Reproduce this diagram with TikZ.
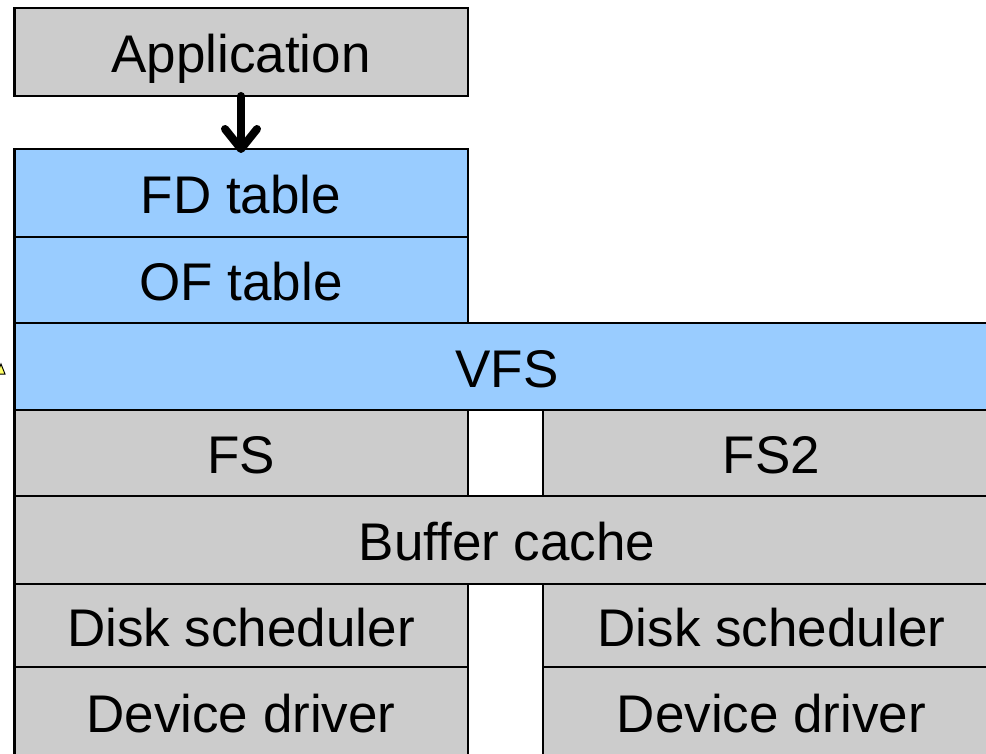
\documentclass[tikz,border=0pt]{standalone}
\usepackage{fontspec}
\setmainfont{Liberation Sans}
\usetikzlibrary{arrows.meta}
\definecolor{boxgray}{HTML}{CCCCCC}
\definecolor{boxblue}{HTML}{99CCFF}
\definecolor{tri}{HTML}{FFFF66}
\tikzset{
  layer/.style={draw=black, line width=2pt, inner sep=0pt, outer sep=0pt, anchor=north west,
    font=\fontsize{53}{60}\selectfont, text height=41pt, text depth=0pt},
  graybox/.style={layer, fill=boxgray},
  bluebox/.style={layer, fill=boxblue},
  callarrow/.style={line width=8pt, line cap=round, line join=round,
    -{Straight Barb[length=20pt,width=32pt,round]}}
}
\begin{document}
\begin{tikzpicture}[x=1pt,y=-1pt]
\clip (0,0) rectangle (986,754);
\fill[white] (0,0) rectangle (986,754);
\node[graybox, minimum width=454pt, minimum height=88pt] (app) at (14,8) {Application};
\node[bluebox, minimum width=454pt, minimum height=88pt] (fd) at (14,149) {FD table};
\node[bluebox, minimum width=454pt, minimum height=87pt] (of) at (14,237) {OF table};
\node[bluebox, minimum width=986pt, minimum height=87pt] (vfs) at (14,323) {VFS};
\node[graybox, minimum width=454pt, minimum height=86pt] (fs) at (14,410) {FS};
\node[graybox, minimum width=457pt, minimum height=86pt] (fs2) at (543,410) {FS2};
\node[graybox, minimum width=986pt, minimum height=88pt] (buf) at (14,496) {Buffer cache};
\node[graybox, minimum width=454pt, minimum height=83pt] (ds1) at (14,584) {Disk scheduler};
\node[graybox, minimum width=457pt, minimum height=83pt] (ds2) at (543,584) {Disk scheduler};
\node[graybox, minimum width=454pt, minimum height=90pt] (dd1) at (14,667) {Device driver};
\node[graybox, minimum width=457pt, minimum height=90pt] (dd2) at (543,667) {Device driver};
\draw[line width=3pt] (app.north west) -- (app.south west);
\draw[line width=3pt] (fd.north west) -- (dd1.south west);
\draw[callarrow] (app.south) -- ([yshift=-4pt]fd.north);
\filldraw[fill=tri, draw=black, line width=1pt] (-3,374) -- (1,364) -- (5,374) -- cycle;
\end{tikzpicture}
\end{document}
